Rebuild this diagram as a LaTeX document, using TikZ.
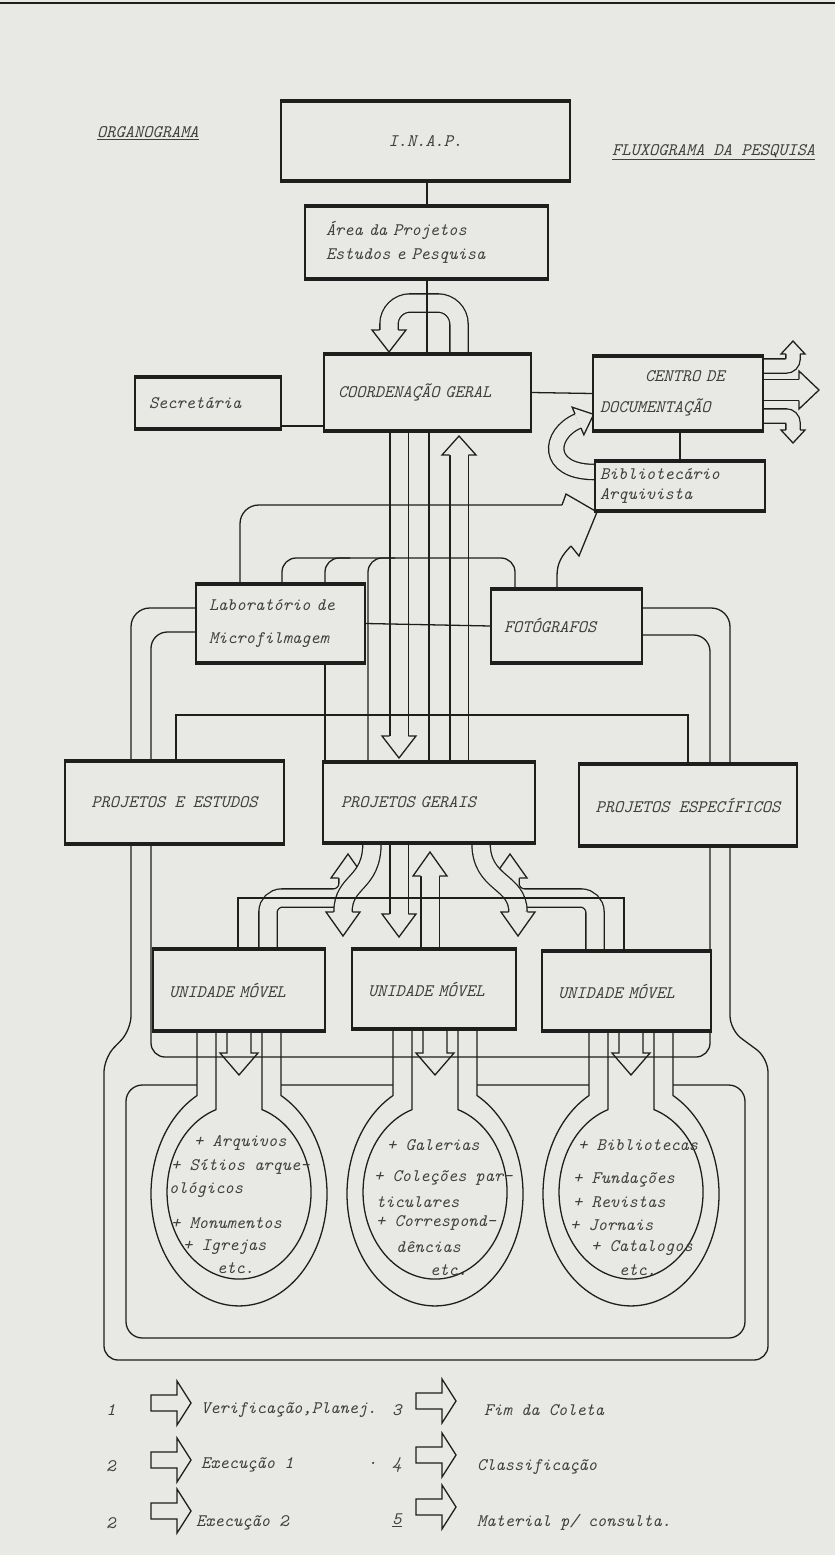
\documentclass[tikz,border=0pt]{standalone}
\usepackage{fontspec}
\definecolor{paper}{RGB}{232,232,228}
\definecolor{ink}{RGB}{30,30,30}
\pgfdeclarelayer{paperlayer}
\pgfdeclarelayer{pipework}
\pgfsetlayers{paperlayer,pipework,main}
\tikzset{
  txt/.style={font=\fontsize{15}{20}\selectfont\ttfamily\itshape, text=ink!85, inner sep=0pt},
  box/.style={txt, draw=ink, line width=1.1pt, fill=paper},
  thickedge/.style={draw=ink, line width=3.2pt},
  wire/.style={draw=ink, line width=1.1pt},
  pipe/.style={draw=ink, line width=1.1pt, double=paper, double distance=#1},
  pics/hhead/.style args={#1/#2/#3}{code={
    \fill [paper] (-#2,0) -- (0,#3) -- (#2,0) -- cycle;
    \draw [wire, line join=miter] (-#1,0) -- (-#2,0) -- (0,#3) -- (#2,0) -- (#1,0);
  }},
  pics/legarrow/.style={code={
    \draw [wire, line join=miter] (0,-8) -- (26,-8) -- (26,-22) -- (40,0) -- (26,22) -- (26,8) -- (0,8) -- cycle;
  }}
}
\begin{document}
\begin{tikzpicture}[x=0.3mm, y=-0.3mm]
\useasboundingbox (0,0) rectangle (835,1555);
\begin{pgfonlayer}{paperlayer}
\fill [paper] (0,0) rectangle (835,1555);
\draw [ink, line width=1.5pt] (0,3) -- (835,3);
\end{pgfonlayer}

\node [txt, anchor=west] (orga) at (97,133) {\underline{ORGANOGRAMA}};
\node [txt, anchor=west] (fluxo) at (612,152) {\underline{FLUXOGRAMA DA PESQUISA}};

\node [box, minimum width=86.7mm, minimum height=23.4mm] (inap) at (425.5,141) {I.N.A.P.};
\node [box, minimum height=21.3mm, text width=60.3mm, inner xsep=6.3mm, align=left] (area) at (426.5,242.5) {Área da Projetos\\Estudos e Pesquisa};
\node [box, minimum height=22.5mm, text width=53.7mm, inner xsep=4.2mm, align=left] (coord) at (427.5,392.5) {COORDENAÇÃO GERAL};
\node [box, minimum height=15mm, text width=35.4mm, inner xsep=4.2mm, align=left] (secr) at (208,403) {Secretária};
\node [box, minimum height=21.9mm, text width=46.8mm, inner xsep=2.1mm, align=left] (centro) at (678,393.5) {\hspace*{13.5mm}CENTRO DE\\[2.3mm]DOCUMENTAÇÃO};
\node [box, minimum height=14.4mm, text width=48mm, inner xsep=1.5mm, align=left] (biblio) at (680,486) {Bibliotecário\\[-1.2mm]Arquivista};
\node [box, minimum height=23.1mm, text width=42.9mm, inner xsep=3.9mm, align=left] (lab) at (280.5,623.5) {Laboratório de\\[2.9mm]Microfilmagem};
\node [box, minimum height=21.6mm, text width=37.5mm, inner xsep=3.9mm, align=left] (foto) at (566.5,626) {FOTÓGRAFOS};
\node [box, minimum width=65.7mm, minimum height=24.3mm] (pe) at (174.5,802.5) {PROJETOS E ESTUDOS};
\node [box, minimum height=23.7mm, text width=52.8mm, inner xsep=5.4mm, align=left] (pg) at (429,802.5) {PROJETOS GERAIS};
\node [box, minimum width=65.4mm, minimum height=24mm] (pesp) at (688,805) {PROJETOS ESPECÍFICOS};
\node [box, minimum height=24mm, text width=42mm, inner xsep=4.8mm, align=left] (um1) at (239,990) {UNIDADE MÓVEL};
\node [box, minimum height=23.4mm, text width=39.6mm, inner xsep=4.8mm, align=left] (um2) at (434,989) {UNIDADE MÓVEL};
\node [box, minimum height=23.4mm, text width=41.1mm, inner xsep=4.8mm, align=left] (um3) at (626.5,991) {UNIDADE MÓVEL};

\foreach \b in {inap,area,coord,secr,centro,biblio,lab,foto,pe,pg,pesp,um1,um2,um3}
  \draw [thickedge] (\b.north west) -- (\b.north east) (\b.south west) -- (\b.south east);

\begin{pgfonlayer}{pipework}
\draw [pipe=5.1mm, rounded corners=18] (459,0 |- coord.north) -- (459,303) -- (389,303) -- (389,330);
\pic at (389,330) {hhead=9.3/17/22};
\draw [pipe=5.1mm] (399,0 |- coord.south) -- (399,736);
\pic at (399,736) {hhead=9.3/17/22};
\draw [pipe=5.1mm] (459,0 |- pg.north) -- (459,455);
\pic [rotate=180] at (459,455) {hhead=9.3/17/19};

\draw [pipe=3.9mm, rounded corners=6] (centro.east |- 0,366) -| (793,354);
\pic [rotate=180] at (793,354) {hhead=7.2/12/13};
\draw [pipe=6mm] (centro.east |- 0,390) -- (799,390);
\pic [rotate=90] at (799,390) {hhead=10.7/19/20};
\draw [pipe=3.9mm, rounded corners=6] (centro.east |- 0,416) -| (793,430);
\pic at (793,430) {hhead=7.2/12/13};

\draw [pipe=4.2mm] (biblio.west |- 0,472) .. controls (545,472) and (548,434) .. (578,421);
\pic [rotate=113] at (578,421) {hhead=7.7/15/17};

\draw [pipe=5.1mm, rounded corners=12] (268,0 |- um1.north) |- (348,898) -- (348,878);
\pic [rotate=180] at (348,878) {hhead=9.3/17/24};
\draw [pipe=5.1mm] (430,0 |- um2.north) -- (430,876);
\pic [rotate=180] at (430,876) {hhead=9.3/17/24};
\draw [pipe=5.1mm, rounded corners=12] (595,0 |- um3.north) |- (510,898) -- (510,878);
\pic [rotate=180] at (510,878) {hhead=9.3/17/24};
\draw [pipe=5.1mm] (372,0 |- pg.south) .. controls (372,885) and (343,880) .. (343,912);
\pic at (343,912) {hhead=9.3/17/24};
\draw [pipe=5.1mm] (399,0 |- pg.south) -- (399,914);
\pic at (399,914) {hhead=9.3/17/23};
\draw [pipe=5.1mm] (481,0 |- pg.south) .. controls (481,885) and (518,880) .. (518,912);
\pic at (518,912) {hhead=9.3/17/24};

\draw [wire] (427,0 |- inap.south) -- (427,0 |- area.north);
\draw [wire] (427,0 |- area.south) -- (427,0 |- coord.north);
\draw [wire] (429,0 |- coord.south) -- (429,0 |- pg.north);
\draw [wire] (secr.east |- 0,426) -- (coord.west |- 0,426);
\draw [wire] (coord.east) -- (centro.west);
\draw [wire] (680,0 |- centro.south) -- (680,0 |- biblio.north);
\draw [wire] (lab.east) -- (foto.west);
\draw [wire] (325,0 |- lab.south) -- (325,0 |- pg.north);

\draw [wire, rounded corners=16] (240,0 |- lab.north) -- (240,505) -- (562,505);
\draw [wire, line join=miter] (562,505) -- (566,494) -- (597,512) -- (579,556) -- (571,546);
\draw [wire] (571,546) .. controls (561,556) and (557,564) .. (557,576) -- (557,0 |- foto.north);
\draw [wire, rounded corners=12] (282,0 |- lab.north) |- (515,558) -- (515,0 |- foto.north);
\draw [wire, rounded corners=12] (325,0 |- lab.north) |- (350,558);
\draw [wire, rounded corners=12] (368,0 |- pg.north) |- (395,558);

\draw [wire, rounded corners=16] (lab.west |- 0,608) -| (131,0 |- pe.north);
\draw [wire, rounded corners=14] (lab.west |- 0,632) -| (151,0 |- pe.north);
\draw [wire, rounded corners=16] (foto.east |- 0,608) -| (730,0 |- pesp.north);
\draw [wire, rounded corners=14] (foto.east |- 0,635) -| (710,0 |- pesp.north);

\draw [wire] (176,0 |- pe.north) |- (688,715) -- (688,0 |- pesp.north);
\draw [wire] (238,0 |- um1.north) |- (624,898) -- (624,0 |- um3.north);

\draw [wire, rounded corners=12] (131,0 |- pe.south) -- (131,1030) -- (104,1058) -- (104,1360) -- (768,1360) -- (768,1058) -- (730,1030) -- (730,0 |- pesp.south);
\draw [wire, rounded corners=14] (126,1085) rectangle (745,1338);

\foreach \cx in {239,435,631}{
  \draw [wire, fill=paper] (\cx+42,1030) -- (\cx+42,1095.5) arc [start angle=-61.5, end angle=241.5, x radius=88, y radius=112] -- (\cx-42,1030);
  \draw [wire] (\cx+23,1030) -- (\cx+23,1109.6) arc [start angle=-71.4, end angle=251.4, x radius=72, y radius=87] -- (\cx-23,1030);
  \draw [wire, line join=miter] (\cx-12,1030) -- (\cx-12,1053) -- (\cx-19,1053) -- (\cx,1075) -- (\cx+19,1053) -- (\cx+12,1053) -- (\cx+12,1030);
}
\draw [wire, rounded corners=12] (151,0 |- pe.south) -- (151,1057) -- (710,1057) -- (710,0 |- pesp.south);
\end{pgfonlayer}

\foreach \t/\x/\y [count=\i] in {{+ Arquivos}/194/1143, {+ Sítios arque-}/171/1167, {ológicos}/169/1190, {+ Monumentos}/171/1223, {+ Igrejas}/183/1247, {etc.}/217/1268}
  \node [txt, anchor=west] (sa\i) at (\x,\y) {\t};
\foreach \t/\x/\y [count=\i] in {{+ Galerias}/387/1145, {+ Coleções par-}/374/1178, {ticulares}/376/1202, {+ Correspond-}/376/1223, {dências}/396/1247, {etc.}/430/1270}
  \node [txt, anchor=west] (sb\i) at (\x,\y) {\t};
\foreach \t/\x/\y [count=\i] in {{+ Bibliotecas}/578/1145, {+ Fundações}/573/1180, {+ Revistas}/573/1202, {+ Jornais}/570/1225, {+ Catalogos}/591/1248, {etc.}/619/1270}
  \node [txt, anchor=west] (sc\i) at (\x,\y) {\t};

\node [txt] (n1) at (111,1410) {1};
\pic at (151,1403) {legarrow};
\node [txt, anchor=west] (l1) at (201,1410) {Verificação,Planej.};
\node [txt] (n3) at (397,1410) {3};
\pic at (416,1401) {legarrow};
\node [txt, anchor=west] (l3) at (484,1410) {Fim da Coleta};
\node [txt] (n2) at (111,1466) {2};
\pic at (151,1460) {legarrow};
\node [txt, anchor=west] (l2) at (201,1465) {Execução 1};
\node [txt] (pt) at (373,1463) {.};
\node [txt] (n4) at (397,1465) {4};
\pic at (416,1455) {legarrow};
\node [txt, anchor=west] (l4) at (477,1467) {Classificação};
\node [txt] (n2b) at (111,1523) {2};
\pic at (151,1511) {legarrow};
\node [txt, anchor=west] (l2b) at (196,1523) {Execução 2};
\node [txt] (n5) at (397,1520) {\underline{5}};
\pic at (416,1507) {legarrow};
\node [txt, anchor=west] (l5) at (477,1522) {Material p/ consulta.};
\end{tikzpicture}
\end{document}
